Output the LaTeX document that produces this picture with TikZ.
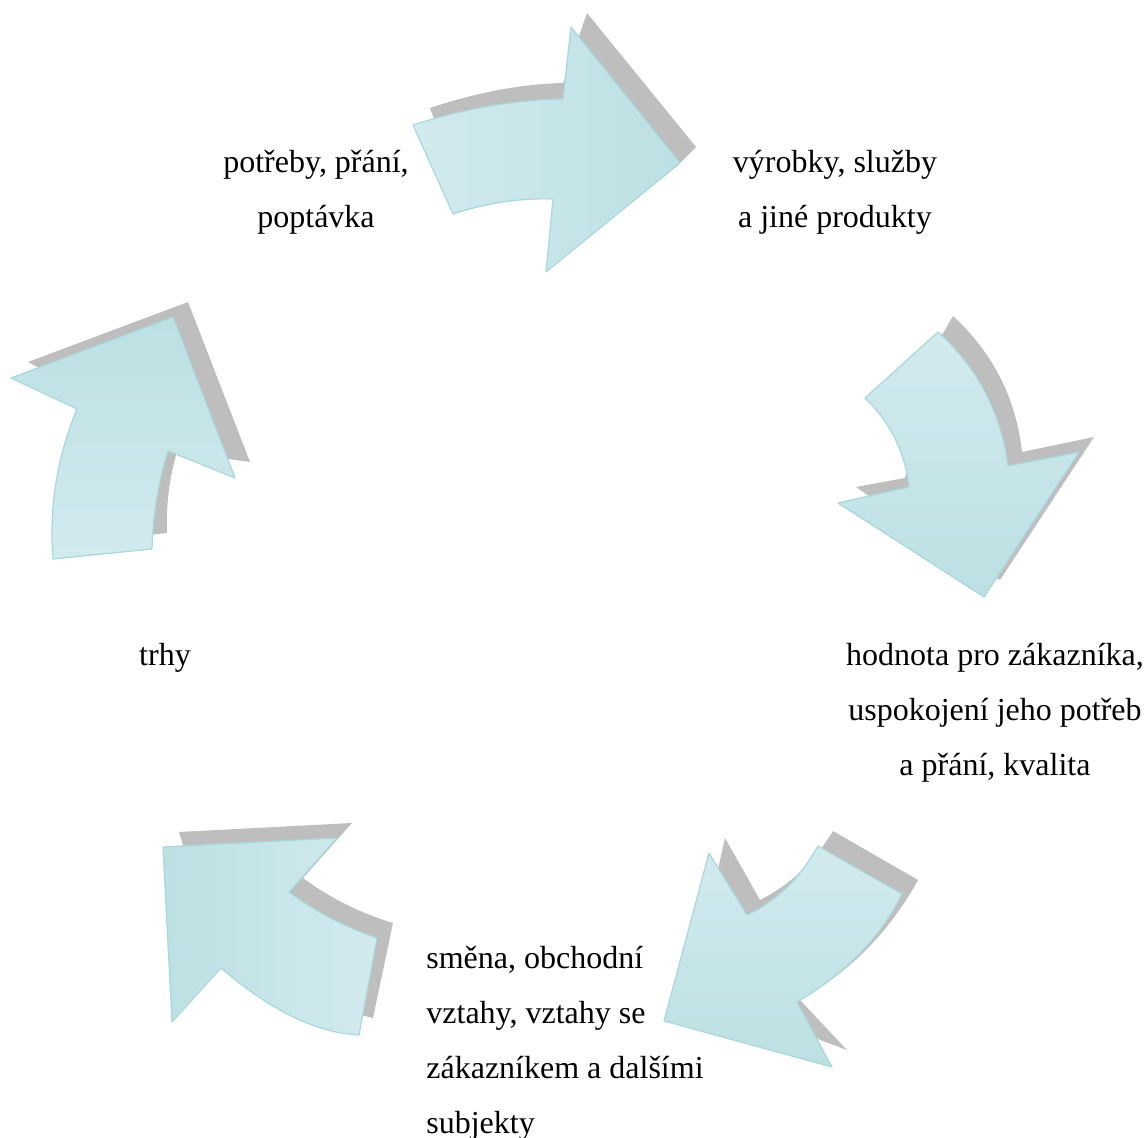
\documentclass[tikz,border=0pt]{standalone}
\usepackage{fontspec}
\setmainfont{Liberation Serif}
\usepackage{tikz}
\usetikzlibrary{positioning}

\definecolor{cyclelight}{RGB}{210,234,238}
\definecolor{cycledark}{RGB}{188,224,227}
\definecolor{cycleedge}{RGB}{168,216,220}
\definecolor{cycleshadow}{RGB}{190,190,190}

\begin{document}
\begin{tikzpicture}[x=0.5pt,y=-0.5pt]
\tikzstyle{every node}=[font=\fontsize{16}{27.5}\selectfont,inner sep=0pt]
\tikzstyle{cyclearrow}=[draw=cycleedge,line width=0.6pt,line join=round]
\tikzstyle{cycleshade}=[fill=cycleshadow,draw=none]
\tikzstyle{cycletext}=[align=center]

\useasboundingbox (0,0) rectangle (1146,1138);

%% Arrow 1: needs -> products (top)
\path[cycleshade] (430,108) .. controls (475,93) and (520,84) .. (563,83)
    -- (587,13) -- (696,147) -- (676,167) -- (645,180) -- (560,190) -- (440,135) -- cycle;
\path[cyclearrow,left color=cyclelight,right color=cycledark]
    (413,125) .. controls (463,109) and (513,100) .. (563,99)
    -- (571,27) -- (680,163) -- (546,272) -- (553,199)
    .. controls (520,198) and (486,203) .. (453,214) -- cycle;

%% Arrow 2: products -> value (right)
\path[cycleshade] (953,316) .. controls (993,353) and (1016,398) .. (1022,452)
    -- (1094,437) -- (1000,580) -- (960,560) -- (856,487) -- (905,478)
    -- (920,420) -- (942,335) -- cycle;
\path[cyclearrow,top color=cyclelight,bottom color=cycledark]
    (938,332) .. controls (978,368) and (1001,413) .. (1008,466)
    -- (1079,452) -- (984,597) -- (838,503) -- (909,487)
    .. controls (905,452) and (890,422) .. (865,398) -- cycle;

%% Arrow 3: value -> exchange (lower right)
\path[cycleshade] (918,880) -- (833,831) .. controls (814,862) and (790,885) .. (760,900)
    -- (725,838) -- (700,950) -- (820,1040) -- (847,1050) -- (800,1000)
    .. controls (851,971) and (890,931) .. cycle;
\path[cyclearrow,top color=cyclelight,bottom color=cycledark]
    (902,894) -- (818,846) .. controls (800,878) and (777,901) .. (747,915)
    -- (709,853) -- (664,1021) -- (832,1067) -- (797,1002)
    .. controls (846,973) and (881,937) .. cycle;

%% Arrow 4: exchange -> markets (lower left)
\path[cycleshade] (179,832) -- (352,823) -- (303,878)
    .. controls (330,898) and (360,913) .. (393,923)
    -- (373,1018) -- (340,1010) -- (200,900) -- cycle;
\path[cyclearrow,left color=cycledark,right color=cyclelight]
    (163,847) -- (337,838) -- (289,892)
    .. controls (316,912) and (345,927) .. (377,938)
    -- (359,1035) .. controls (317,1033) and (271,1011) .. (221,968)
    -- (172,1022) -- cycle;

%% Arrow 5: markets -> needs (left)
\path[cycleshade] (28,362) -- (188,302) -- (250,462) -- (177,452)
    .. controls (169,479) and (166,507) .. (167,533)
    -- (140,536) -- (100,400) -- cycle;
\path[cyclearrow,top color=cycledark,bottom color=cyclelight]
    (53,559) -- (152,549) .. controls (153,516) and (158,483) .. (168,451)
    -- (235,478) -- (173,317) -- (11,378) -- (77,409)
    .. controls (57,457) and (49,507) .. cycle;

%% Labels
\node[cycletext] (needs) at (316,192) {potřeby, přání,\\poptávka};
\node[cycletext] (products) at (835,192) {výrobky, služby\\a jiné produkty};
\node[cycletext] (value) at (995,713)
    {hodnota pro zákazníka,\\uspokojení jeho potřeb\\a přání, kvalita};
\node[cycletext] (markets) at (165,658) {trhy};
\node[align=left,anchor=west] (exchange) at (426,1043)
    {směna, obchodní\\vztahy, vztahy se\\zákazníkem a dalšími\\subjekty};

\end{tikzpicture}
\end{document}
